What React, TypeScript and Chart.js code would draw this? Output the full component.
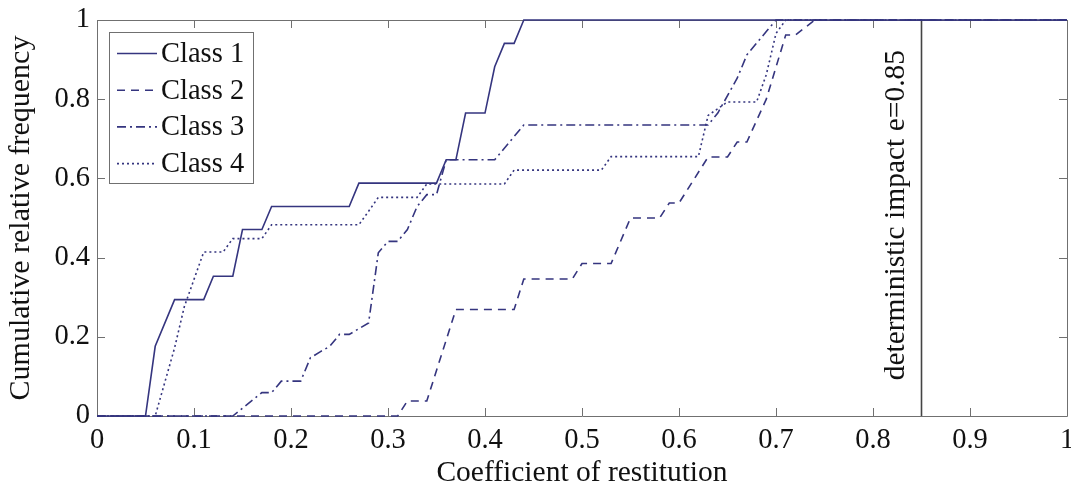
import React, { useEffect, useRef } from 'react';
import { Chart, registerables } from 'chart.js';

Chart.register(...registerables);

// ---- data ----
const class1X = [0, 0.05, 0.06, 0.08, 0.11, 0.12, 0.14, 0.15, 0.17, 0.18, 0.26, 0.27, 0.35, 0.36, 0.37, 0.38, 0.40, 0.41, 0.42, 0.43, 0.44, 1];
const class1Y = [0, 0, 0.176, 0.294, 0.294, 0.353, 0.353, 0.471, 0.471, 0.529, 0.529, 0.588, 0.588, 0.647, 0.647, 0.765, 0.765, 0.882, 0.941, 0.941, 1, 1];

const class2X = [0, 0.31, 0.32, 0.34, 0.37, 0.43, 0.44, 0.49, 0.50, 0.53, 0.55, 0.58, 0.59, 0.60, 0.63, 0.65, 0.66, 0.67, 0.69, 0.71, 0.72, 0.74, 1];
const class2Y = [0, 0, 0.038, 0.038, 0.269, 0.269, 0.346, 0.346, 0.385, 0.385, 0.5, 0.5, 0.538, 0.538, 0.654, 0.654, 0.692, 0.692, 0.8, 0.962, 0.962, 1, 1];

const class3X = [0, 0.14, 0.17, 0.18, 0.19, 0.21, 0.22, 0.23, 0.24, 0.25, 0.26, 0.28, 0.29, 0.30, 0.31, 0.32, 0.33, 0.34, 0.35, 0.36, 0.41, 0.44, 0.63, 0.64, 0.66, 0.67, 0.69, 0.70, 1];
const class3Y = [0, 0, 0.059, 0.059, 0.088, 0.088, 0.147, 0.162, 0.176, 0.206, 0.206, 0.235, 0.412, 0.441, 0.441, 0.471, 0.529, 0.559, 0.559, 0.647, 0.647, 0.735, 0.735, 0.765, 0.853, 0.912, 0.971, 1, 1];

const class4X = [0, 0.06, 0.08, 0.09, 0.10, 0.11, 0.13, 0.14, 0.17, 0.18, 0.27, 0.28, 0.29, 0.33, 0.34, 0.42, 0.43, 0.52, 0.53, 0.62, 0.63, 0.65, 0.68, 0.69, 0.70, 0.71, 1];
const class4Y = [0, 0, 0.172, 0.276, 0.345, 0.414, 0.414, 0.448, 0.448, 0.483, 0.483, 0.517, 0.552, 0.552, 0.586, 0.586, 0.621, 0.621, 0.655, 0.655, 0.759, 0.793, 0.793, 0.862, 0.966, 1, 1];

const seriesLabels = ['Class 1', 'Class 2', 'Class 3', 'Class 4'];
const refLineX = [0.85, 0.85];
const refLineY = [0, 1];
const annotationText = 'deterministic impact e=0.85';
const annotationX = 0.832;
const annotationY = 0.09;

const xTickValues = [0, 0.1, 0.2, 0.3, 0.4, 0.5, 0.6, 0.7, 0.8, 0.9, 1];
const yTickValues = [0, 0.2, 0.4, 0.6, 0.8, 1];
const xTitle = 'Coefficient of restitution';
const yTitle = 'Cumulative relative frequency';

// ---- styles ----
const FONT = '"Liberation Serif", "Times New Roman", serif';
const LINE_COLOR = '#35357f';
const FRAME_COLOR = '#707070';
const dashes: number[][] = [[], [8, 6], [9, 4, 2, 4], [2, 3]];

const pts = (xs: number[], ys: number[]) => xs.map((x, i) => ({ x, y: ys[i] }));

const framePlugin = {
  id: 'frame',
  beforeDatasetsDraw(chart: any) {
    const { ctx, chartArea: a, scales } = chart;
    const tl = 8;
    ctx.save();
    ctx.strokeStyle = FRAME_COLOR;
    ctx.lineWidth = 1;
    ctx.beginPath();
    ctx.rect(a.left + 0.5, a.top + 0.5, a.right - a.left, a.bottom - a.top);
    for (const v of xTickValues) {
      const px = Math.round(scales.x.getPixelForValue(v)) + 0.5;
      ctx.moveTo(px, a.bottom);
      ctx.lineTo(px, a.bottom - tl);
      ctx.moveTo(px, a.top);
      ctx.lineTo(px, a.top + tl);
    }
    for (const v of yTickValues) {
      const py = Math.round(scales.y.getPixelForValue(v)) + 0.5;
      ctx.moveTo(a.left, py);
      ctx.lineTo(a.left + tl, py);
      ctx.moveTo(a.right, py);
      ctx.lineTo(a.right - tl, py);
    }
    ctx.stroke();
    ctx.restore();
  },
  afterDraw(chart: any) {
    const { ctx, chartArea: a, scales } = chart;
    ctx.save();
    // annotation
    ctx.fillStyle = '#111';
    ctx.font = `29.5px ${FONT}`;
    ctx.translate(scales.x.getPixelForValue(annotationX), scales.y.getPixelForValue(annotationY));
    ctx.rotate(-Math.PI / 2);
    ctx.textAlign = 'left';
    ctx.textBaseline = 'alphabetic';
    ctx.fillText(annotationText, 0, 0);
    ctx.restore();

    // legend
    ctx.save();
    const bx = a.left + 12;
    const by = a.top + 12;
    const bw = 144;
    const bh = 151;
    ctx.fillStyle = '#fff';
    ctx.fillRect(bx, by, bw, bh);
    ctx.strokeStyle = FRAME_COLOR;
    ctx.lineWidth = 1;
    ctx.strokeRect(bx + 0.5, by + 0.5, bw, bh);
    ctx.font = `28.5px ${FONT}`;
    ctx.textAlign = 'left';
    ctx.textBaseline = 'middle';
    seriesLabels.forEach((label, i) => {
      const ds = chart.data.datasets[i];
      const cy = by + 21.5 + i * 36.7;
      ctx.strokeStyle = ds.borderColor;
      ctx.lineWidth = ds.borderWidth;
      ctx.setLineDash(ds.borderDash || []);
      ctx.beginPath();
      ctx.moveTo(bx + 8, cy);
      ctx.lineTo(bx + 48, cy);
      ctx.stroke();
      ctx.setLineDash([]);
      ctx.fillStyle = '#111';
      ctx.fillText(label, bx + 52, cy + 1);
    });
    ctx.restore();
  },
};

export default function App() {
  const ref = useRef<HTMLCanvasElement>(null);

  useEffect(() => {
    if (!ref.current) return;
    const series = [
      pts(class1X, class1Y),
      pts(class2X, class2Y),
      pts(class3X, class3Y),
      pts(class4X, class4Y),
    ];
    const datasets: any[] = series.map((data, i) => ({
      label: seriesLabels[i],
      data,
      borderColor: LINE_COLOR,
      borderWidth: 1.6,
      borderDash: dashes[i],
      pointRadius: 0,
      tension: 0,
      fill: false,
      clip: false,
    }));
    datasets.push({
      label: 'ref',
      data: pts(refLineX, refLineY),
      borderColor: '#444',
      borderWidth: 1.6,
      pointRadius: 0,
      clip: false,
    });

    const chart = new Chart(ref.current, {
      type: 'line',
      data: { datasets },
      options: {
        animation: false,
        responsive: false,
        maintainAspectRatio: false,
        layout: { padding: { left: 0, right: 4, top: 20, bottom: 0 } },
        plugins: { legend: { display: false }, tooltip: { enabled: false } },
        scales: {
          x: {
            type: 'linear',
            min: 0,
            max: 1,
            afterBuildTicks: (s: any) => {
              s.ticks = xTickValues.map((value) => ({ value }));
            },
            afterFit: (s: any) => {
              s.height = 72;
              s.paddingLeft = 0;
              s.paddingRight = 0;
            },
            grid: { display: false, drawTicks: false },
            border: { display: false },
            ticks: {
              padding: 7,
              maxRotation: 0,
              autoSkip: false,
              color: '#111',
              font: { family: FONT, size: 28.5 },
              callback: (v: any) => String(Number(Number(v).toFixed(1))),
            },
            title: {
              display: true,
              text: xTitle,
              color: '#111',
              font: { family: FONT, size: 29.5, lineHeight: 1 },
              padding: { top: 0, bottom: 0 },
            },
          },
          y: {
            type: 'linear',
            min: 0,
            max: 1,
            afterBuildTicks: (s: any) => {
              s.ticks = yTickValues.map((value) => ({ value }));
            },
            afterFit: (s: any) => {
              s.width = 97;
              s.paddingTop = 0;
              s.paddingBottom = 0;
            },
            grid: { display: false, drawTicks: false },
            border: { display: false },
            ticks: {
              padding: 7,
              autoSkip: false,
              color: '#111',
              font: { family: FONT, size: 28.5 },
              callback: (v: any) => String(Number(Number(v).toFixed(1))),
            },
            title: {
              display: true,
              text: yTitle,
              color: '#111',
              font: { family: FONT, size: 30, lineHeight: 1 },
              padding: { top: 6, bottom: 0 },
            },
          },
        },
      },
      plugins: [framePlugin],
    });
    return () => chart.destroy();
  }, []);

  return (
    <div style={{ position: 'fixed', left: 0, top: 0, width: 1071, height: 488, background: '#fff' }}>
      <canvas ref={ref} width={1071} height={488} style={{ display: 'block' }} />
    </div>
  );
}
